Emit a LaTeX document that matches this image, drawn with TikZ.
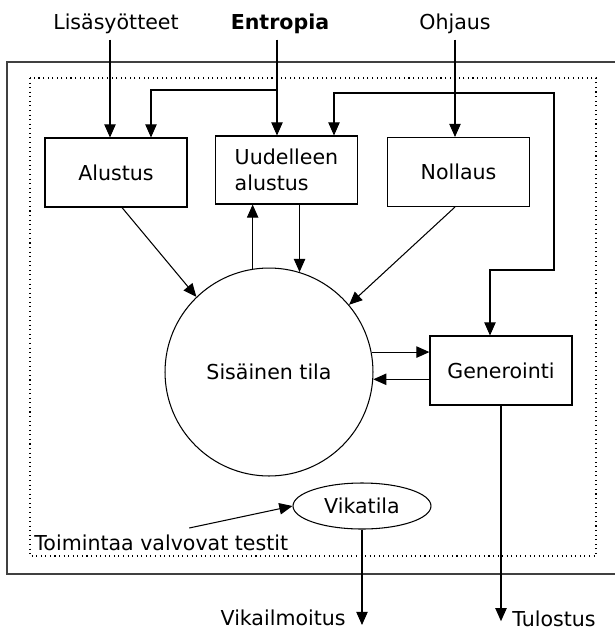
\documentclass[tikz,border=0pt]{standalone}
\usepackage{fontspec}
\setmainfont{DejaVu Sans}
\usepackage{tikz}
\usetikzlibrary{arrows.meta, shapes}

\begin{document}
\begin{tikzpicture}[x=0.02cm, y=-0.02cm, line width=0.6pt, >={Triangle[length=7.5pt, width=6.5pt]}]
	\tikzstyle{every node} = [font = \fontsize{11.7}{14.6}\selectfont]
	\tikzstyle{lohko} = [draw, rectangle, minimum width=2.84cm, minimum height=1.38cm, inner sep=0pt]
	\useasboundingbox (0,0) rectangle (615,630);
	% kehykset
	\path[draw, black!75, line width=0.8pt] (615,62) -- (7,62) -- (7,574) -- (615,574);
	\path[draw, dotted] (30,78) rectangle (596,556);
	% syotteet
	\node[anchor=base] (lisa) at (116,29) {Lisäsyötteet};
	\node[anchor=base, font=\fontsize{11.7}{14.6}\selectfont\bfseries] (entropia) at (280,29) {Entropia};
	\node[anchor=base] (ohjaus) at (455,29) {Ohjaus};
	% lohkot
	\node[lohko] (alustus) at (116,172.5) {Alustus};
	\node[lohko, align=left, minimum height=1.36cm] (uudelleen) at (286.5,170) {Uudelleen\\alustus};
	\node[lohko] (nollaus) at (458.5,172) {Nollaus};
	\node[draw, circle, minimum size=4.16cm, inner sep=0pt] (tila) at (269,372) {Sisäinen tila};
	\node[lohko] (generointi) at (501,370.5) {Generointi};
	\node[draw, ellipse, minimum width=2.76cm, minimum height=0.92cm, inner sep=0pt] (vikatila) at (362,506) {Vikatila};
	% tekstit
	\node[anchor=base west] (testit) at (28,550) {Toimintaa valvovat testit};
	\node[anchor=base east] (vikailmoitus) at (352,625) {Vikailmoitus};
	\node[anchor=base west] (tulostus) at (506,626) {Tulostus};
	% mutkien pisteet
	\coordinate (e1) at (277,90);
	\coordinate (e2) at (151,90);
	\coordinate (g1) at (490,270);
	\coordinate (g2) at (554,270);
	\coordinate (g3) at (554,93);
	\coordinate (g4) at (334,93);
	% nuolet
	\path[draw,->] ([xshift=-0.12cm]lisa.south) -- ([xshift=-0.12cm]lisa.south |- alustus.north);
	\path[draw,->] (entropia.south -| e1) -- (e1 |- uudelleen.north);
	\path[draw,->] (e1) -- (e2) -- (e2 |- alustus.north);
	\path[draw,->] (ohjaus.south) -- (ohjaus.south |- nollaus.north);
	\path[draw,<->] (g4 |- uudelleen.north) -- (g4) -- (g3) -- (g2) -- (g1) -- (g1 |- generointi.north);
	\path[draw,->] ([xshift=0.12cm]alustus.south) -- (tila.134);
	\path[draw,->] ([xshift=-0.07cm]nollaus.south) -- (tila.40);
	\path[draw,->] (tila.99) -- (tila.99 |- uudelleen.south);
	\path[draw,->] (uudelleen.south -| tila.73) -- (tila.73);
	\path[draw,->] (tila.11) -- (tila.11 -| generointi.west);
	\path[draw,->] (generointi.west |- tila.-4) -- (tila.-4);
	\path[draw,->] (generointi.south) -- (generointi.south |- tulostus.mid);
	\path[draw,->] (vikatila.south) -- (vikatila.south |- vikailmoitus.base);
	\path[draw,->] ([xshift=0.56cm]testit.north) -- (vikatila.west);
\end{tikzpicture}
\end{document}
